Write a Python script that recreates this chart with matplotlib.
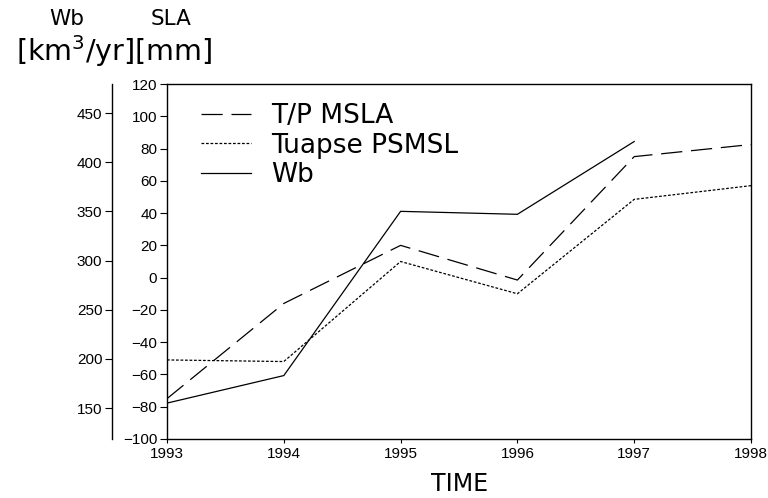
import matplotlib
matplotlib.use("Agg")
import matplotlib.pyplot as plt

years = [1993, 1994, 1995, 1996, 1997, 1998]
tp_msla = [-75, -16, 20, -1.5, 75, 82.5]          # mm
tuapse_psmsl = [-51, -52, 10, -10, 48.5, 57]      # mm
wb_years = [1993, 1994, 1995, 1996, 1997]
wb = [155, 183, 350, 347, 421]                    # km3/yr

sla_ticks = list(range(-100, 121, 20))
wb_ticks = [150, 200, 250, 300, 350, 400, 450]
year_ticks = years

plt.rcParams['font.family'] = ['Liberation Sans', 'DejaVu Sans']

fig = plt.figure(figsize=(7.68, 4.98), dpi=100)
ax = fig.add_axes([167/768, 1-439/498, (751-167)/768, (439-84)/498])

lw = 0.9
l1, = ax.plot(years, tp_msla, color='black', lw=lw, dashes=(17, 7), label='T/P MSLA')
l2, = ax.plot(years, tuapse_psmsl, color='black', lw=lw, dashes=(2.2, 1.4), label='Tuapse PSMSL')

ax.set_xlim(1993, 1998)
ax.set_ylim(-100, 120)
ax.set_yticks(sla_ticks)
ax.set_yticklabels([f"\u2212{abs(v)}" if v < 0 else str(v) for v in sla_ticks])
ax.set_xticks(year_ticks)
ax.set_xticklabels([str(y) for y in year_ticks])
ax.tick_params(axis='y', direction='out', length=5, width=0.8, labelsize=11, pad=2)
ax.tick_params(axis='x', direction='out', length=3, width=0.8, labelsize=11, pad=3)
for s in ax.spines.values():
    s.set_linewidth(1.0)

ax2 = ax.twinx()
l3, = ax2.plot(wb_years, wb, color='black', lw=lw, label='Wb')
ax2.set_ylim(118.5, 479.5)
ax2.set_yticks(wb_ticks)
ax2.yaxis.set_ticks_position('left')
ax2.yaxis.set_label_position('left')
ax2.spines['left'].set_position(('outward', 55 * 72 / 100))
ax2.spines['left'].set_visible(True)
ax2.spines['left'].set_linewidth(1.0)
for k in ['right', 'top', 'bottom']:
    ax2.spines[k].set_visible(False)
ax2.tick_params(axis='y', direction='out', length=5, width=0.8, labelsize=11, pad=2)

leg = ax.legend(handles=[l1, l2, l3], loc='upper left', bbox_to_anchor=(0.04, 0.975),
                frameon=False, handlelength=1.9, handletextpad=0.76,
                labelspacing=0.12, borderaxespad=0,
                prop={'family': 'DejaVu Sans', 'size': 19})

fig.text(67/768, 1-19/498, "Wb", ha='center', va='center', fontsize=15.5, family='DejaVu Sans')
fig.text(171/768, 1-19/498, "SLA", ha='center', va='center', fontsize=15.5, family='DejaVu Sans')
fig.text(114/768, 1-51/498, "[km$^\\mathregular{3}$/yr][mm]", ha='center', va='center',
         fontsize=20.5, family='DejaVu Sans')

fig.text(460/768, 1-484/498, "TIME", ha='center', va='center', fontsize=17,
         family=['Liberation Sans Narrow', 'DejaVu Sans'])

fig.savefig("out.png", dpi=100)
